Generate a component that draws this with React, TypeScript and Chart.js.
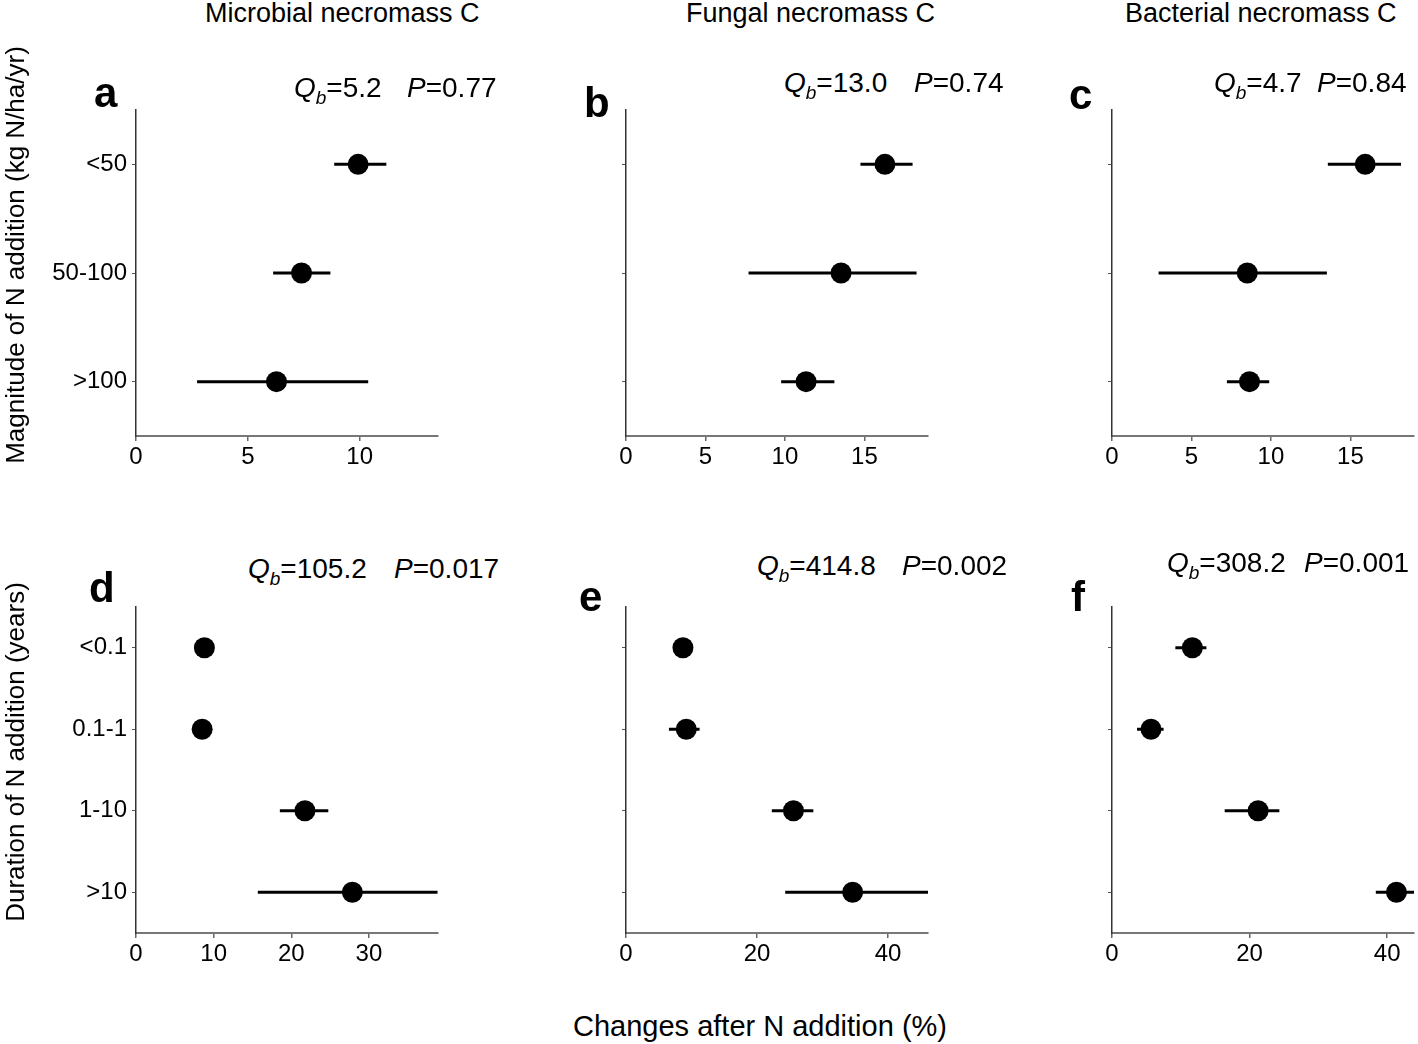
import React, { useEffect, useRef } from 'react';
import { Chart, registerables } from 'chart.js';

Chart.register(...registerables);

const FONT = '"Liberation Sans", Arial, Helvetica, sans-serif';

// ---------- data ----------
const magnitudeCategories = ['<50', '50-100', '>100'];
const durationCategories = ['<0.1', '0.1-1', '1-10', '>10'];

const microbialMagMean = [9.93, 7.4, 6.28];
const microbialMagLow = [8.86, 6.13, 2.73];
const microbialMagHigh = [11.19, 8.69, 10.38];

const fungalMagMean = [16.29, 13.53, 11.33];
const fungalMagLow = [14.75, 7.71, 9.76];
const fungalMagHigh = [18.03, 18.28, 13.11];

const bacterialMagMean = [15.93, 8.51, 8.65];
const bacterialMagLow = [13.58, 2.93, 7.23];
const bacterialMagHigh = [18.18, 13.52, 9.89];

const microbialDurMean = [8.81, 8.52, 21.76, 27.87];
const microbialDurLow = [8.0, 7.8, 18.53, 15.69];
const microbialDurHigh = [9.6, 9.3, 24.77, 38.84];

const fungalDurMean = [8.69, 9.2, 25.56, 34.6];
const fungalDurLow = [7.6, 6.55, 22.26, 24.3];
const fungalDurHigh = [9.8, 11.23, 28.6, 46.1];

const bacterialDurMean = [11.68, 5.67, 21.24, 41.35];
const bacterialDurLow = [9.21, 3.64, 16.38, 38.35];
const bacterialDurHigh = [13.72, 7.5, 24.33, 43.9];

const ticksA = [0, 5, 10];
const ticksBC = [0, 5, 10, 15];
const ticksD = [0, 10, 20, 30];
const ticksEF = [0, 20, 40];

const columnTitles = ['Microbial necromass C', 'Fungal necromass C', 'Bacterial necromass C'];
const panelLetters = ['a', 'b', 'c', 'd', 'e', 'f'];
const qbValues = ['5.2', '13.0', '4.7', '105.2', '414.8', '308.2'];
const pValues = ['0.77', '0.74', '0.84', '0.017', '0.002', '0.001'];
const yTitleTop = 'Magnitude of N addition (kg N/ha/yr)';
const yTitleBottom = 'Duration of N addition (years)';
const xTitle = 'Changes after N addition (%)';

// ---------- layout ----------
const YW = 110;
const XH = 45;
const PAD_TOP = 8;
const PAD_RIGHT = 4;
const PLOT_W = 302;
const PLOT_H = 326;
const CW = YW + PLOT_W + PAD_RIGHT;
const CH = PAD_TOP + PLOT_H + XH;

type PanelProps = {
  cats: string[];
  mean: number[];
  lo: number[];
  hi: number[];
  ticks: number[];
  xMax: number;
  showLabels: boolean;
  left: number;
  top: number;
};

const zeroPad = (s: any) => {
  s.paddingTop = 0;
  s.paddingBottom = 0;
  s.paddingLeft = 0;
  s.paddingRight = 0;
};

function Panel({ cats, mean, lo, hi, ticks, xMax, showLabels, left, top }: PanelProps) {
  const ref = useRef<HTMLCanvasElement>(null);
  useEffect(() => {
    if (!ref.current) return;
    const datasets: any[] = [
      {
        type: 'scatter',
        data: mean.map((m, i) => ({ x: m, y: cats[i] })),
        pointRadius: 10.5,
        pointHoverRadius: 10.5,
        backgroundColor: '#000',
        borderColor: '#000',
        borderWidth: 0,
        order: 0,
      },
    ];
    cats.forEach((c, i) => {
      datasets.push({
        type: 'line',
        data: [
          { x: lo[i], y: c },
          { x: hi[i], y: c },
        ],
        borderColor: '#000',
        borderWidth: 3,
        pointRadius: 0,
        showLine: true,
        fill: false,
        borderCapStyle: 'butt',
        order: 1,
      });
    });
    const chart = new Chart(ref.current, {
      type: 'scatter',
      data: { datasets },
      options: {
        responsive: false,
        maintainAspectRatio: false,
        animation: false,
        events: [],
        layout: { autoPadding: false, padding: { top: PAD_TOP, right: PAD_RIGHT, left: 0, bottom: 0 } },
        plugins: { legend: { display: false }, tooltip: { enabled: false } },
        scales: {
          x: {
            type: 'linear',
            min: 0,
            max: xMax,
            afterBuildTicks: (s: any) => {
              s.ticks = ticks.map((v) => ({ value: v }));
            },
            afterFit: (s: any) => {
              s.height = XH;
              zeroPad(s);
            },
            grid: {
              display: true,
              drawOnChartArea: false,
              drawTicks: true,
              tickLength: 5,
              color: '#666',
              lineWidth: 1.5,
            },
            border: { display: true, color: '#777', width: 2 },
            ticks: {
              color: '#000',
              padding: 2,
              maxRotation: 0,
              font: { family: FONT, size: 24 },
            },
          },
          y: {
            type: 'category',
            labels: cats,
            offset: true,
            afterFit: (s: any) => {
              s.width = YW;
              zeroPad(s);
            },
            grid: {
              display: true,
              offset: false,
              drawOnChartArea: false,
              drawTicks: true,
              tickLength: 4,
              color: '#555',
              lineWidth: 1,
            },
            border: { display: true, color: '#333', width: 1.5 },
            ticks: {
              display: showLabels,
              color: '#000',
              padding: 5,
              font: { family: FONT, size: 24 },
            },
          },
        },
      } as any,
    });
    return () => chart.destroy();
  }, []);
  return (
    <canvas
      ref={ref}
      width={CW}
      height={CH}
      style={{ position: 'absolute', left, top, width: CW, height: CH }}
    />
  );
}

const abs = (left: number, top: number, extra: React.CSSProperties = {}): React.CSSProperties => ({
  position: 'absolute',
  left,
  top,
  whiteSpace: 'nowrap',
  lineHeight: 1,
  ...extra,
});

function Stat({ qx, px, baseline, qb, p }: { qx: number; px: number; baseline: number; qb: string; p: string }) {
  const size = 28;
  const top = baseline - 0.8465 * size;
  return (
    <>
      <div style={abs(qx, top, { fontSize: size })}>
        <i>Q</i>
        <i style={{ fontSize: 19, position: 'relative', top: 7 }}>b</i>={qb}
      </div>
      <div style={abs(px, top, { fontSize: size })}>
        <i>P</i>={p}
      </div>
    </>
  );
}

export default function App() {
  const row1Top = 110 - PAD_TOP;
  const row2Top = 607 - PAD_TOP;
  const col = [136 - YW, 626 - YW, 1112 - YW];
  const statPos = [
    { qx: 294, px: 407, baseline: 98 },
    { qx: 784, px: 914, baseline: 93 },
    { qx: 1214, px: 1317, baseline: 93 },
    { qx: 248, px: 394, baseline: 579 },
    { qx: 757, px: 902, baseline: 576 },
    { qx: 1167, px: 1304, baseline: 573 },
  ];
  const letterPos = [
    { x: 94, b: 108 },
    { x: 584, b: 118 },
    { x: 1069, b: 110 },
    { x: 89, b: 603 },
    { x: 579, b: 612 },
    { x: 1071, b: 612 },
  ];
  const titleX = [205, 686, 1125];
  return (
    <div
      style={{
        position: 'absolute',
        left: 0,
        top: 0,
        width: 1418,
        height: 1044,
        background: '#fff',
        fontFamily: FONT,
        color: '#000',
        overflow: 'hidden',
      }}
    >
      <Panel cats={magnitudeCategories} mean={microbialMagMean} lo={microbialMagLow} hi={microbialMagHigh} ticks={ticksA} xMax={13.5} showLabels={true} left={col[0]} top={row1Top} />
      <Panel cats={magnitudeCategories} mean={fungalMagMean} lo={fungalMagLow} hi={fungalMagHigh} ticks={ticksBC} xMax={19} showLabels={false} left={col[1]} top={row1Top} />
      <Panel cats={magnitudeCategories} mean={bacterialMagMean} lo={bacterialMagLow} hi={bacterialMagHigh} ticks={ticksBC} xMax={19} showLabels={false} left={col[2]} top={row1Top} />
      <Panel cats={durationCategories} mean={microbialDurMean} lo={microbialDurLow} hi={microbialDurHigh} ticks={ticksD} xMax={38.9} showLabels={true} left={col[0]} top={row2Top} />
      <Panel cats={durationCategories} mean={fungalDurMean} lo={fungalDurLow} hi={fungalDurHigh} ticks={ticksEF} xMax={46.1} showLabels={false} left={col[1]} top={row2Top} />
      <Panel cats={durationCategories} mean={bacterialDurMean} lo={bacterialDurLow} hi={bacterialDurHigh} ticks={ticksEF} xMax={43.9} showLabels={false} left={col[2]} top={row2Top} />

      {columnTitles.map((t, i) => (
        <div key={t} style={abs(titleX[i], 23 - 0.8465 * 27, { fontSize: 27 })}>
          {t}
        </div>
      ))}

      {panelLetters.map((l, i) => (
        <div key={l} style={abs(letterPos[i].x, letterPos[i].b - 0.8465 * 42, { fontSize: 42, fontWeight: 'bold' })}>
          {l}
        </div>
      ))}

      {statPos.map((s, i) => (
        <Stat key={i} qx={s.qx} px={s.px} baseline={s.baseline} qb={qbValues[i]} p={pValues[i]} />
      ))}

      <div
        style={abs(14.5, 255, {
          fontSize: 26,
          transform: 'translate(-50%, -50%) rotate(-90deg)',
        })}
      >
        {yTitleTop}
      </div>
      <div
        style={abs(14.5, 752, {
          fontSize: 26,
          transform: 'translate(-50%, -50%) rotate(-90deg)',
        })}
      >
        {yTitleBottom}
      </div>
      <div style={abs(760, 1026 - 14.1, { fontSize: 29, transform: 'translateX(-50%)' })}>{xTitle}</div>
    </div>
  );
}
